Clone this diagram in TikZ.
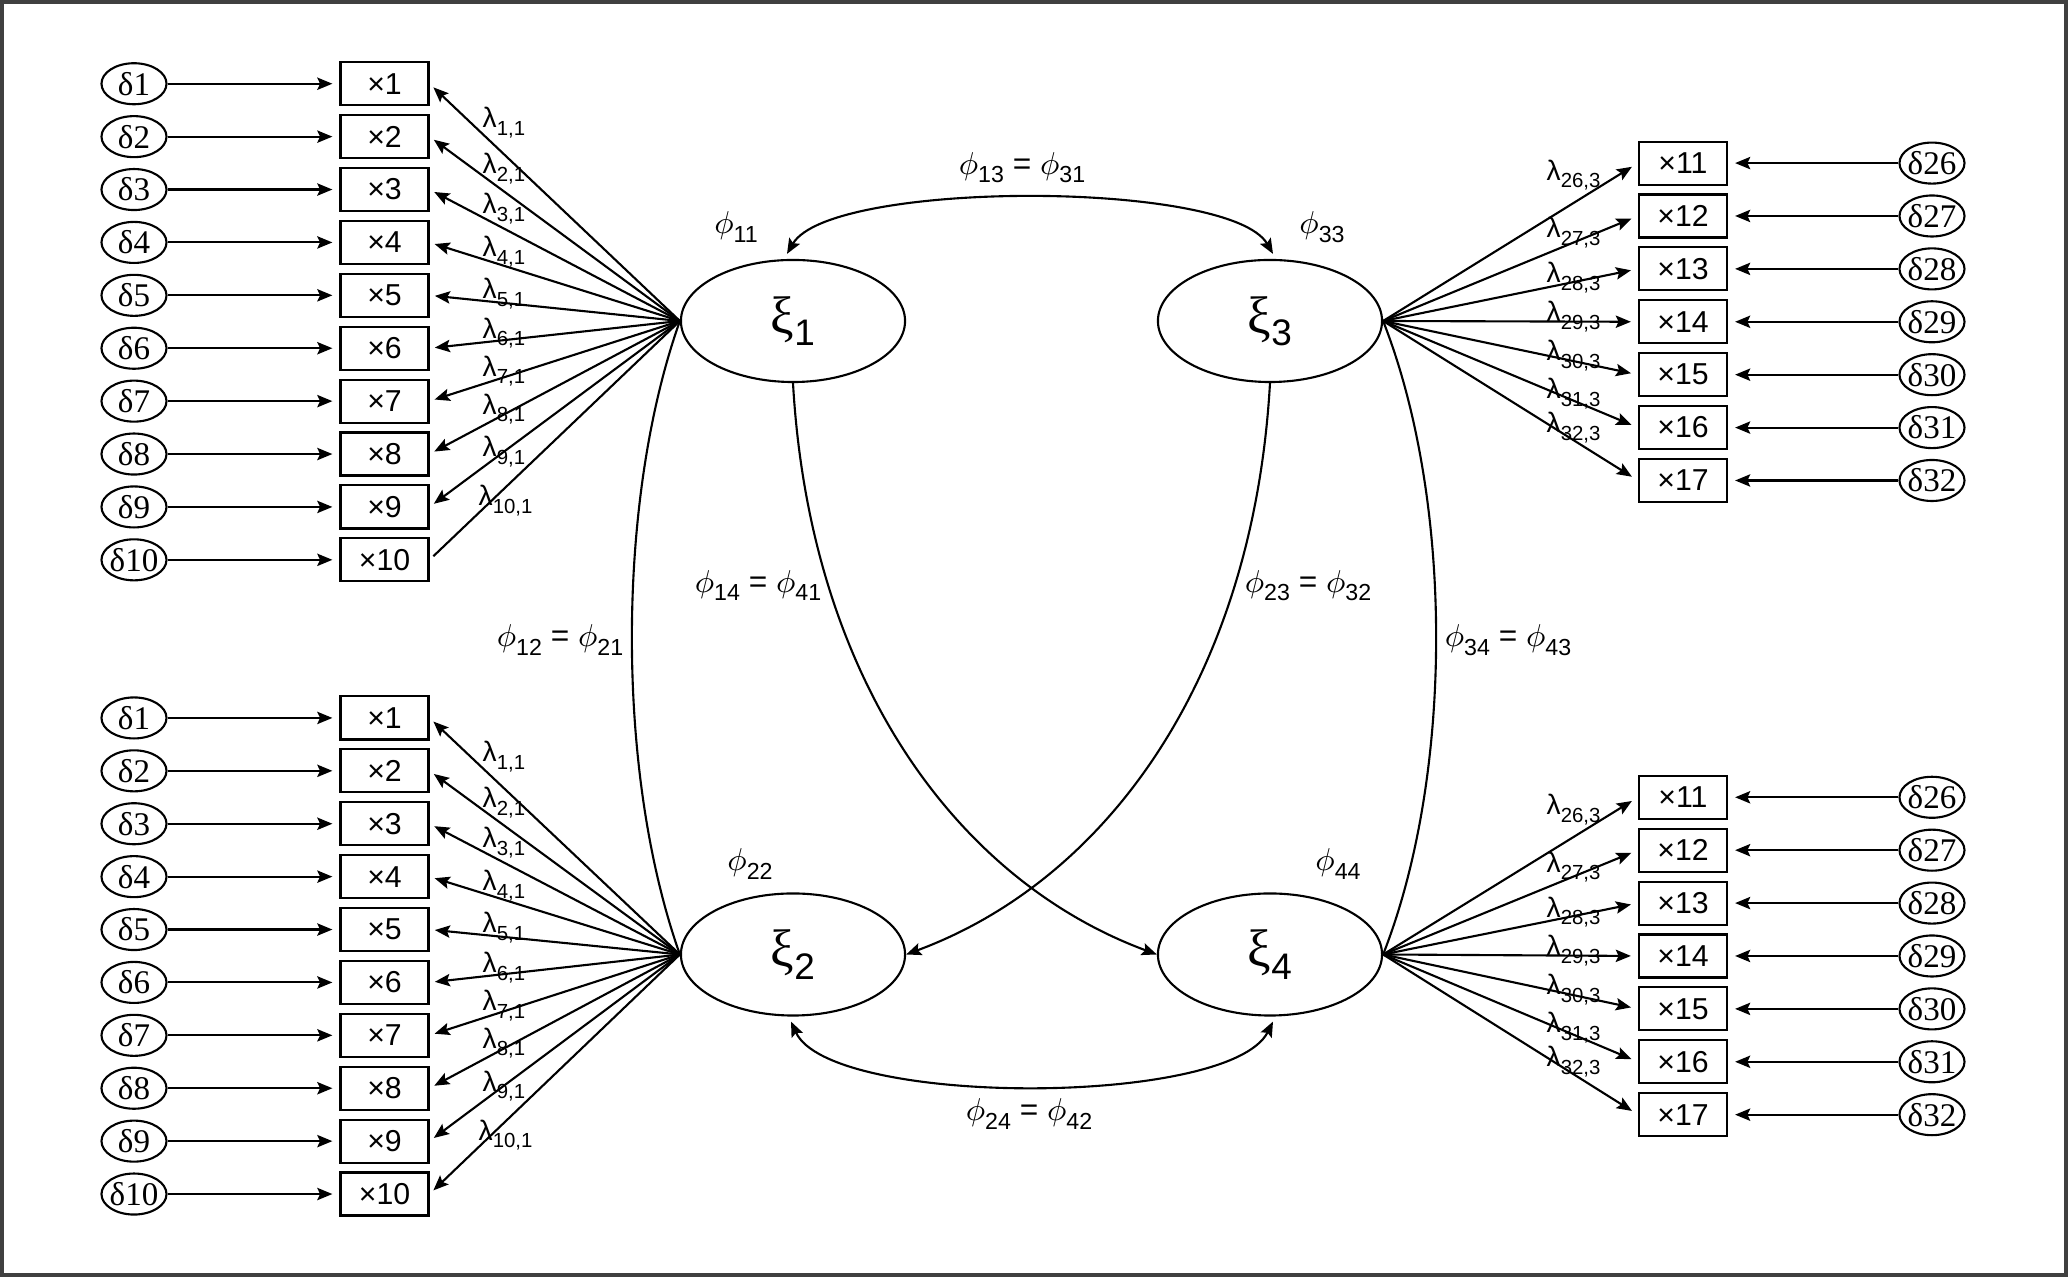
\documentclass[tikz,border=0pt]{standalone}
\usepackage{fontspec}
\setmainfont{Liberation Sans}
\newfontfamily\serifgr{Liberation Serif}
\usetikzlibrary{arrows.meta,shapes.geometric}
\newcommand\lamsub[1]{\raisebox{-2.2pt}{\fontsize{5.8}{6}\selectfont #1}}
\newcommand\phsub[1]{$\phi$\raisebox{-2.4pt}{\fontsize{6.6}{7}\selectfont #1}}
\newcommand\xilab[1]{{\serifgr\fontsize{15}{17}\selectfont ξ}\raisebox{-3.5pt}{\fontsize{10.5}{11}\selectfont #1}}
\begin{document}
\begin{tikzpicture}[x=0.01cm,y=-0.01cm,
  tip/.tip={Stealth[length=4.3pt,width=3.5pt,inset=0.8pt]},
  conn/.style={line width=0.6pt},
  arr/.style={conn,-tip},
  dbl/.style={conn,tip-tip},
  obs/.style={draw,line width=0.6pt,minimum width=0.88cm,minimum height=0.43cm,inner sep=0pt,font=\fontsize{8.6}{10}\selectfont},
  err/.style={draw,ellipse,line width=0.6pt,minimum width=0.65cm,minimum height=0.41cm,inner sep=0pt,font=\serifgr\fontsize{9.4}{10}\selectfont},
  lat/.style={draw,ellipse,line width=0.6pt,minimum width=2.24cm,minimum height=1.22cm,inner sep=0pt},
  lam/.style={anchor=base west,inner sep=0pt,font=\fontsize{8}{9}\selectfont},
  phl/.style={inner sep=0pt,font=\fontsize{9}{10}\selectfont}]
\useasboundingbox (0,0) rectangle (2068,1277);
\draw[line width=0.9pt,black!75] (2,2) rectangle (2066,1275);

% latent variables
\node[lat] (xi1) at (793,321) {\xilab{1}};
\node[lat] (xi2) at (793,954.5) {\xilab{2}};
\node[lat] (xi3) at (1270,321) {\xilab{3}};
\node[lat] (xi4) at (1270,954.5) {\xilab{4}};

% left groups
\foreach \i in {1,...,10} {
  \pgfmathsetmacro\ya{321.8+(\i-5.5)*52.9}
  \pgfmathsetmacro\yb{956+(\i-5.5)*52.9}
  \node[obs] (xa\i) at (384.5,\ya) {×\i};
  \node[err] (da\i) at (134,\ya) {\makebox[0pt]{δ\i}};
  \draw[arr,shorten >=2pt] (da\i) -- (xa\i);
  \node[obs] (xb\i) at (384.5,\yb) {×\i};
  \node[err] (db\i) at (134,\yb) {\makebox[0pt]{δ\i}};
  \draw[arr,shorten >=2pt] (db\i) -- (xb\i);
  \draw[arr,shorten >=1.5pt] (xi2.west) -- (xb\i.east);
}
\foreach \i in {1,...,9} {
  \draw[arr,shorten >=1.5pt] (xi1.west) -- (xa\i.east);
}
\draw[conn,shorten >=1.5pt] (xi1.west) -- (xa10.east);

% left lambda labels
\foreach \i/\dy/\xx in {1/34/482,2/27/482,3/14/482,4/4/482,5/-7/482,6/-20/482,7/-35/482,8/-50/482,9/-60/482,10/-64/478} {
  \pgfmathsetmacro\ya{321.8+(\i-5.5)*52.9+\dy+10}
  \pgfmathsetmacro\yb{956+(\i-5.5)*52.9+\dy+10}
  \node[lam] (la\i) at (\xx,\ya) {λ\lamsub{\i,1}};
  \node[lam] (lb\i) at (\xx,\yb) {λ\lamsub{\i,1}};
}

% right groups
\foreach \j/\n/\d/\dy in {1/11/26/7,2/12/27/12,3/13/28/4,4/14/29/-10,5/15/30/-24,6/16/31/-39,7/17/32/-58} {
  \pgfmathsetmacro\ya{321.8+(\j-4)*52.9}
  \pgfmathsetmacro\yb{956+(\j-4)*52.9}
  \node[obs] (xc\j) at (1683,\ya) {×\n};
  \node[err] (dc\j) at (1932,\ya) {\makebox[0pt]{δ\d}};
  \draw[arr,shorten >=2pt] (dc\j) -- (xc\j);
  \draw[arr,shorten >=2pt] (xi3.east) -- (xc\j.west);
  \node[obs] (xd\j) at (1683,\yb) {×\n};
  \node[err] (dd\j) at (1932,\yb) {\makebox[0pt]{δ\d}};
  \draw[arr,shorten >=2pt] (dd\j) -- (xd\j);
  \draw[arr,shorten >=2pt] (xi4.east) -- (xd\j.west);
  \pgfmathsetmacro\yla{\ya+\dy+10}
  \pgfmathsetmacro\ylb{\yb+\dy+10}
  \node[lam] (lc\j) at (1546,\yla) {λ\lamsub{\d,3}};
  \node[lam] (ld\j) at (1546,\ylb) {λ\lamsub{\d,3}};
}

% covariances
\draw[dbl] ([shift={(-6,-5)}]xi1.north) .. controls +(43,-74) and +(-43,-74) .. ([shift={(3,-5)}]xi3.north);
\draw[dbl] ([shift={(-2,5)}]xi2.south) .. controls +(39,85.5) and +(-43,85.5) .. ([shift={(3,5)}]xi4.south);
\draw[conn] (xi1.west) .. controls +(-64,180) and +(-64,-180) .. (xi2.west);
\draw[conn] (xi3.east) .. controls +(70.7,180) and +(70.7,-180) .. (xi4.east);
\draw[arr] (xi1.south) .. controls +(17,298.5) and +(-198.5,-73.5) .. (xi4.west);
\draw[arr] (xi3.south) .. controls +(-17,298.5) and +(198.5,-73.5) .. (xi2.east);

% phi labels
\node[phl] (p11) at (736,227) {\phsub{11}};
\node[phl] (p33) at (1322,227) {\phsub{33}};
\node[phl] (p22) at (750,864) {\phsub{22}};
\node[phl] (p44) at (1338,864) {\phsub{44}};
\node[phl] (p13) at (1022,167.5) {\phsub{13} = \phsub{31}};
\node[phl] (p24) at (1029,1114) {\phsub{24} = \phsub{42}};
\node[phl] (p12) at (560,640) {\phsub{12} = \phsub{21}};
\node[phl] (p14) at (758,585.5) {\phsub{14} = \phsub{41}};
\node[phl] (p23) at (1308,585.5) {\phsub{23} = \phsub{32}};
\node[phl] (p34) at (1508,640) {\phsub{34} = \phsub{43}};
\end{tikzpicture}
\end{document}
